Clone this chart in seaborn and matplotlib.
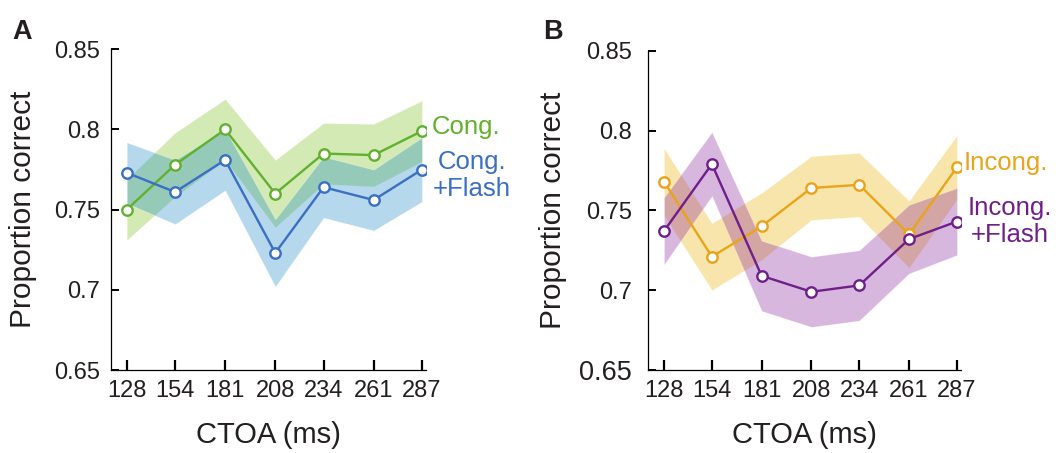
import numpy as np
import pandas as pd
import matplotlib
matplotlib.use("Agg")
import matplotlib.pyplot as plt
import seaborn as sns

# Cue-target onset asynchronies (ms)
ctoa = [128, 154, 181, 208, 234, 261, 287]

# Panel A: congruent trials
cong = [0.750, 0.778, 0.800, 0.760, 0.785, 0.784, 0.799]
cong_err = [0.019, 0.020, 0.019, 0.021, 0.019, 0.0195, 0.019]
cong_flash = [0.773, 0.761, 0.781, 0.723, 0.764, 0.756, 0.775]
cong_flash_err = [0.019, 0.020, 0.019, 0.021, 0.019, 0.019, 0.020]

# Panel B: incongruent trials
incong = [0.768, 0.721, 0.740, 0.764, 0.766, 0.735, 0.777]
incong_err = [0.021, 0.021, 0.021, 0.020, 0.020, 0.021, 0.020]
incong_flash = [0.737, 0.779, 0.709, 0.699, 0.703, 0.732, 0.743]
incong_flash_err = [0.021, 0.020, 0.022, 0.022, 0.022, 0.0215, 0.021]

ytick_vals = [0.65, 0.70, 0.75, 0.80, 0.85]
ytick_labels = ["0.65", "0.7", "0.75", "0.8", "0.85"]

sns.set_theme(style="ticks")
plt.rcParams["font.family"] = ["Liberation Sans", "DejaVu Sans"]
TXT = "#231f20"
plt.rcParams["text.color"] = TXT
plt.rcParams["axes.labelcolor"] = TXT
plt.rcParams["xtick.color"] = TXT
plt.rcParams["ytick.color"] = TXT

fig = plt.figure(figsize=(10.64, 4.53), dpi=100)
axA = fig.add_axes([0.1043, 0.1832, 0.2961, 0.7080])
axB = fig.add_axes([0.6093, 0.1832, 0.2939, 0.7049])


def draw_series(ax, y, err, line_color, band_color, band_alpha, label):
    df = pd.DataFrame({"CTOA": ctoa, "pc": y})
    lo = np.array(y) - np.array(err)
    hi = np.array(y) + np.array(err)
    ax.fill_between(ctoa, lo, hi, color=band_color, alpha=band_alpha,
                    edgecolor="white", linewidth=0.6, zorder=1)
    sns.lineplot(data=df, x="CTOA", y="pc", ax=ax, color=line_color,
                 linewidth=1.7, marker="o", markersize=7.5,
                 markerfacecolor="white", markeredgecolor=line_color,
                 markeredgewidth=1.7, label=label, legend=False, zorder=2)


def style_axes(ax, ypad, ylab_x):
    ax.set_ylim(0.65, 0.85)
    ax.set_xlim(119.5, 289.2)
    ax.set_xticks(ctoa)
    ax.set_xticklabels([str(c) for c in ctoa])
    ax.set_yticks(ytick_vals)
    ax.set_yticklabels(ytick_labels)
    sns.despine(ax=ax)
    for s in ("left", "bottom"):
        ax.spines[s].set_linewidth(0.9)
        ax.spines[s].set_color("black")
    ax.tick_params(axis="x", direction="in", length=7, width=1.6,
                   labelsize=17, pad=7, color="black")
    ax.tick_params(axis="y", direction="in", length=6, width=1.4,
                   labelsize=17, pad=ypad, color="black")
    ax.set_xlabel("CTOA (ms)", fontsize=21, labelpad=14)
    ax.set_ylabel("Proportion correct", fontsize=21.5)
    ax.yaxis.set_label_coords(ylab_x, 0.5)
    ax.grid(False)


# Panel A
draw_series(axA, cong, cong_err, "#62b030", "#70bc0a", 0.30, "Cong.")
draw_series(axA, cong_flash, cong_flash_err, "#3a6fc4", "#0a80c2", 0.30, "Cong. +Flash")
style_axes(axA, 8, -0.235)
axA.text(292.5, 0.8016, "Cong.", color="#62b030", fontsize=18.5,
         ha="left", va="center", clip_on=False)
axA.text(314.0, 0.7712, "Cong.\n+Flash", color="#3a6fc4", fontsize=18.5,
         ha="center", va="center", multialignment="center",
         linespacing=1.15, clip_on=False)

# Panel B
draw_series(axB, incong, incong_err, "#e9a41a", "#ebb000", 0.33, "Incong.")
draw_series(axB, incong_flash, incong_flash_err, "#6e1f8a", "#801294", 0.30, "Incong. +Flash")
style_axes(axB, 12, -0.26)
for lbl in axB.get_yticklabels():
    if lbl.get_text() == "0.65":
        lbl.set_fontsize(19.5)
axB.text(290.8, 0.7796, "Incong.", color="#e9a41a", fontsize=18.5,
         ha="left", va="center", clip_on=False)
axB.text(315.5, 0.7430, "Incong.\n+Flash", color="#6e1f8a", fontsize=18.5,
         ha="center", va="center", multialignment="center",
         linespacing=1.15, clip_on=False)

# Panel letters
fig.text(0.0113, 0.930, "A", fontsize=19.5, fontweight="bold", ha="left", va="center")
fig.text(0.5100, 0.930, "B", fontsize=19.5, fontweight="bold", ha="left", va="center")

fig.savefig("out.png", dpi=100, facecolor="white")
